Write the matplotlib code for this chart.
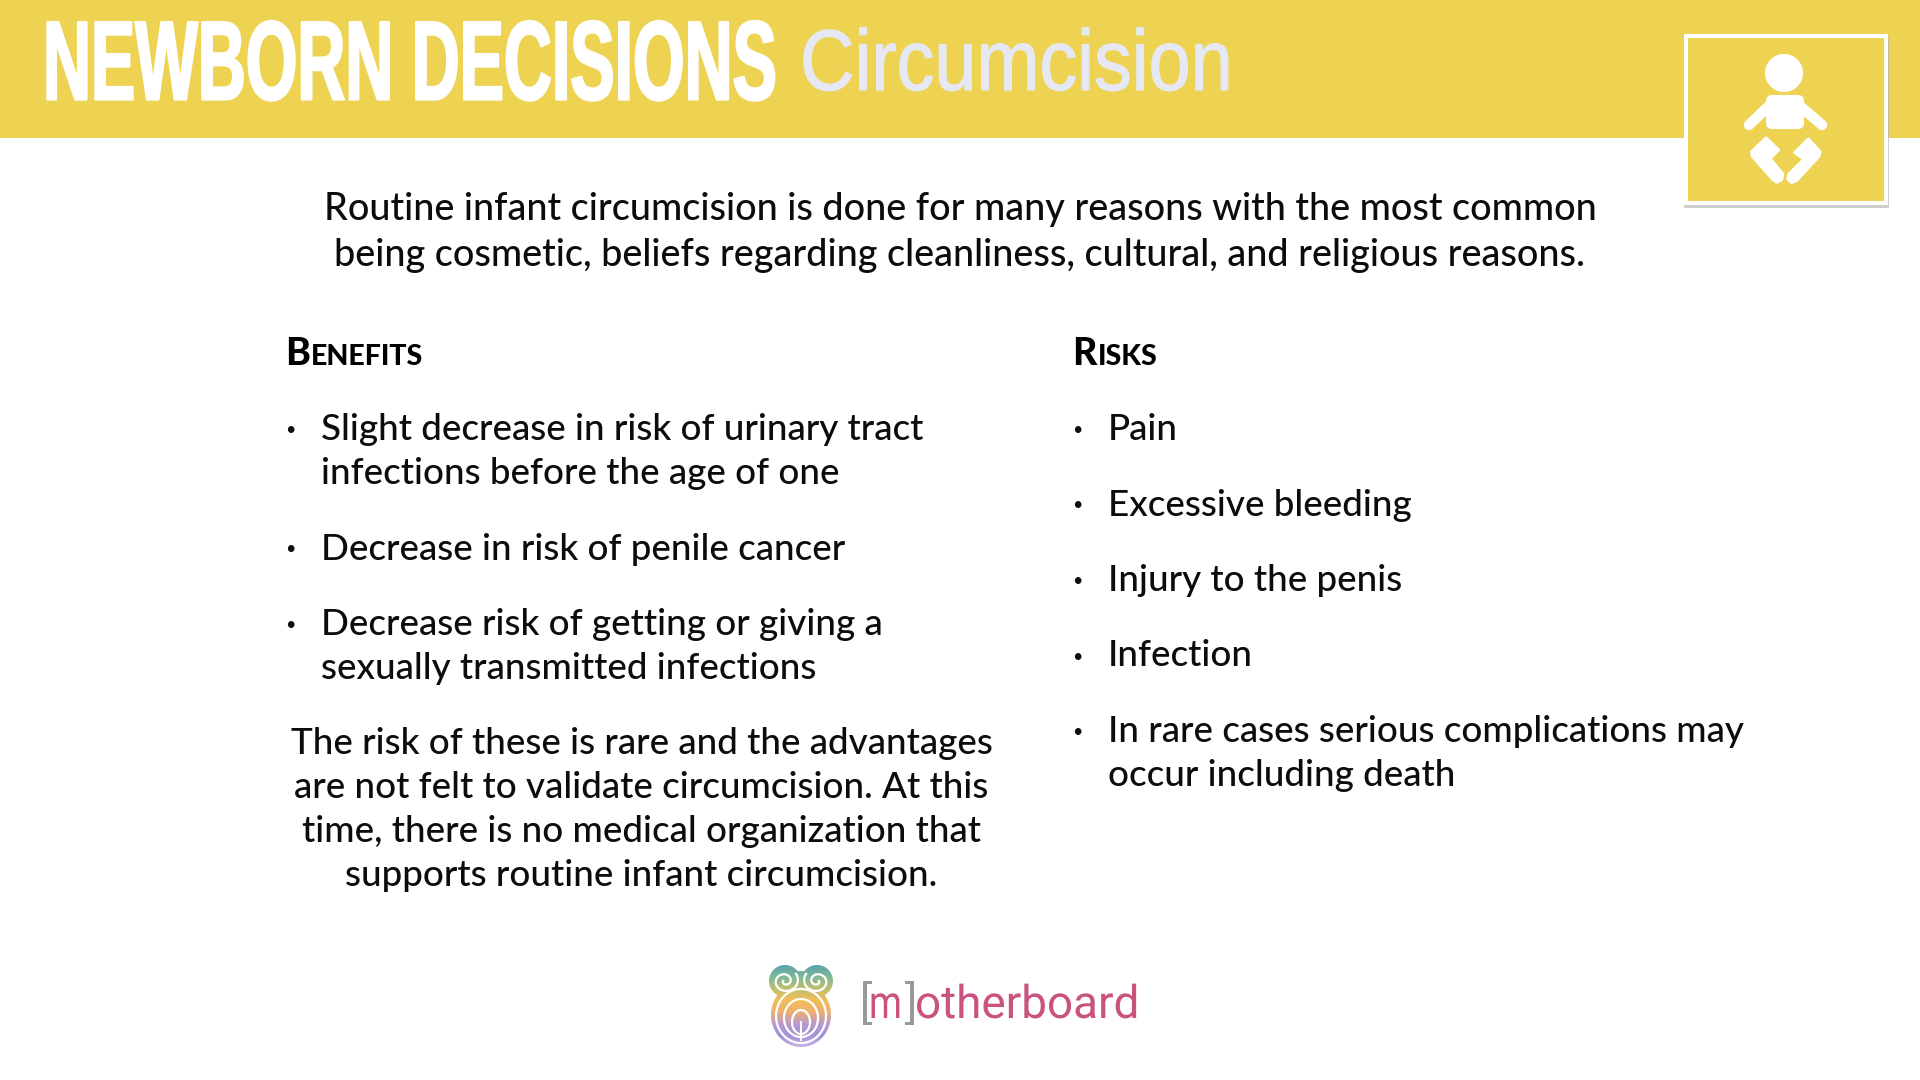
import numpy as np
import matplotlib
matplotlib.use("Agg")
import matplotlib.pyplot as plt
from matplotlib.patches import Rectangle, Circle, Polygon, FancyBboxPatch, PathPatch
from matplotlib.path import Path
from matplotlib.patheffects import AbstractPathEffect
from matplotlib.text import Text
from matplotlib.transforms import Affine2D, Bbox
from matplotlib.colors import LinearSegmentedColormap

TITLE = "NEWBORN DECISIONS"
SUBTITLE = "Circumcision"
INTRO = ["Routine infant circumcision is done for many reasons with the most common",
         "being cosmetic, beliefs regarding cleanliness, cultural, and religious reasons."]
BENEFITS_HEAD = ("B", "ENEFITS")
RISKS_HEAD = ("R", "ISKS")
BENEFITS = [["Slight decrease in risk of urinary tract", "infections before the age of one"],
            ["Decrease in risk of penile cancer"],
            ["Decrease risk of getting or giving a", "sexually transmitted infections"]]
NOTE = ["The risk of these is rare and the advantages",
        "are not felt to validate circumcision. At this",
        "time, there is no medical organization that",
        "supports routine infant circumcision."]
RISKS = [["Pain"], ["Excessive bleeding"], ["Injury to the penis"], ["Infection"],
         ["In rare cases serious complications may", "occur including death"]]

YELLOW = "#EED252"
INK = "#0C0C0C"
BODY = "Lato"
BODY_WEIGHT = "medium"
BODY_SIZE = 26.5
INTRO_SIZE = 27.2

class Squeeze(AbstractPathEffect):
    def __init__(self, sx, stroke=0.0):
        super().__init__()
        self.sx = sx
        self.stroke = stroke
    def draw_path(self, renderer, gc, tpath, affine, rgbFace=None):
        x0 = affine.transform((0, 0))[0]
        t = affine + Affine2D().translate(-x0, 0).scale(self.sx, 1).translate(x0, 0)
        g = renderer.new_gc()
        g.copy_properties(gc)
        if self.stroke:
            g.set_linewidth(self.stroke)
            g.set_foreground(rgbFace)
        renderer.draw_path(g, tpath, t, rgbFace)
        g.restore()

class CondensedText(Text):
    def __init__(self, x, y, s, sx, stroke=0.0, **kw):
        super().__init__(x, y, s, **kw)
        self.sx = sx
        self.set_path_effects([Squeeze(sx, stroke)])
    def get_window_extent(self, renderer=None, dpi=None):
        b = super().get_window_extent(renderer, dpi)
        return Bbox.from_extents(b.x0, b.y0, b.x0 + b.width * self.sx, b.y1)

fig = plt.figure(figsize=(19.2, 10.8), dpi=100, facecolor="white")
ax = fig.add_axes([0, 0, 1, 1])
ax.set_xlim(0, 1920)
ax.set_ylim(1080, 0)
ax.axis("off")

ax.add_patch(Rectangle((0, 0), 1920, 138, fc=YELLOW, ec="none"))
ax.add_artist(CondensedText(43, 99.5, TITLE, 0.59, stroke=1.6, fontsize=81, fontweight="bold",
                            family="Liberation Sans", color="white", va="baseline", ha="left"))
ax.add_artist(CondensedText(800, 90, SUBTITLE, 0.878, stroke=0.9, fontsize=62,
                            family="Liberation Sans", color="#E6E8F3", va="baseline", ha="left"))

for txt, y in zip(INTRO, (220, 266)):
    ax.text(960, y, txt, fontsize=INTRO_SIZE, family=BODY, fontweight=BODY_WEIGHT, color=INK, ha="center", va="baseline")

def head(x, y, parts):
    t = ax.text(x, y, parts[0], fontsize=27, family=BODY, fontweight="black", color="black", va="baseline")
    w = t.get_window_extent(fig.canvas.get_renderer()).width
    ax.text(x + w + 1, y, parts[1], fontsize=20.5, family=BODY, fontweight="black", color="black", va="baseline")

head(285, 365, BENEFITS_HEAD)
head(1072, 365, RISKS_HEAD)

def bullets(items, xb, xt, y0):
    y = y0
    for it in items:
        ax.text(xb, y - 10, "•", fontsize=13, family=BODY, color=INK, ha="center", va="center")
        for ln in it:
            ax.text(xt, y, ln, fontsize=BODY_SIZE, family=BODY, fontweight=BODY_WEIGHT, color=INK, va="baseline")
            y += 44
        y += 31.5

bullets(BENEFITS, 290, 321, 440)
bullets(RISKS, 1077, 1108, 440)

for i, ln in enumerate(NOTE):
    ax.text(641.5, 754 + i * 44, ln, fontsize=BODY_SIZE, family=BODY, fontweight=BODY_WEIGHT, color=INK, ha="center", va="baseline")

# icon box
ax.add_patch(Rectangle((1684, 37), 205, 171, fc="#B8B8B8", ec="none", alpha=0.7))
ax.add_patch(Rectangle((1686, 36), 200, 167, fc=YELLOW, ec="white", lw=2.9))
ax.add_patch(Circle((1784, 73), 19, fc="white", ec="none"))
ax.add_patch(FancyBboxPatch((1770, 99), 30, 26, boxstyle="round,pad=4,rounding_size=6", fc="white", ec="none"))
for xs, ys in (((1774, 1749), (101, 125)), ((1794, 1822), (101, 125))):
    ax.plot(xs, ys, color="white", lw=7.5, solid_capstyle="round")
foot_l = [(378, 412), (418, 450), (392, 476), (430, 522), (426, 540), (410, 548),
          (398, 540), (336, 470), (333, 455)]
foot_r = [(505, 415), (542, 455), (538, 470), (470, 543), (455, 549), (442, 538),
          (445, 522), (490, 478), (462, 458)]
for pts in (foot_l, foot_r):
    ax.add_patch(Polygon([(1640 + a / 3, b / 3) for a, b in pts], closed=True,
                         fc="white", ec="white", lw=1.5, joinstyle="round"))

# logo
cmap = LinearSegmentedColormap.from_list("logo", ["#5AA0B0", "#7DB89A", "#BDC070", "#F0BE58",
                                                   "#EEB070", "#B99AD0", "#A090D8", "#C6B8E4"])
th = np.linspace(0, 2 * np.pi, 120)
def ell(cx, cy, rx, ry):
    return Path(np.column_stack([cx + rx * np.cos(th), cy + ry * np.sin(th)]))
outline = Path.make_compound_path(ell(785, 981, 16, 16), ell(817, 981, 16, 16),
                                  ell(801, 1015, 30, 32), ell(801, 985, 14, 14))
grad = np.linspace(0, 1, 90).reshape(-1, 1)
im = ax.imshow(grad, cmap=cmap, extent=(766, 836, 1048, 964), aspect="auto", zorder=2)
ax.set_xlim(0, 1920)
ax.set_ylim(1080, 0)
im.set_clip_path(PathPatch(outline, transform=ax.transData, fc="none", ec="none"))

for rx, ry, y0 in ((25, 27, 1016), (17, 19, 1018), (9, 12, 1022)):
    ax.plot(801 + rx * np.cos(th), y0 + ry * np.sin(th), color="white", lw=1.6, zorder=3)
ax.plot([801, 801], [1022, 1040], color="white", lw=1.4, zorder=3)
for sgn in (-1, 1):
    t = np.linspace(0, 3.2 * np.pi, 120)
    r = 2 + 3.6 * t / np.pi
    ax.plot(801 + sgn * 16 + sgn * r * np.cos(t), 981 + 0.9 * r * np.sin(t), color="white", lw=1.6, zorder=3)

def logo(x, s, color, sx=1.0):
    ax.add_artist(CondensedText(x, 1018, s, sx, fontsize=33, family="Roboto", color=color, va="baseline", ha="left"))

logo(860, "[", "#999999")
logo(869, "m", "#C9527F", 0.82)
logo(905, "]", "#999999")
logo(915, "otherboard", "#C9527F")

fig.savefig("out.png", dpi=100)
